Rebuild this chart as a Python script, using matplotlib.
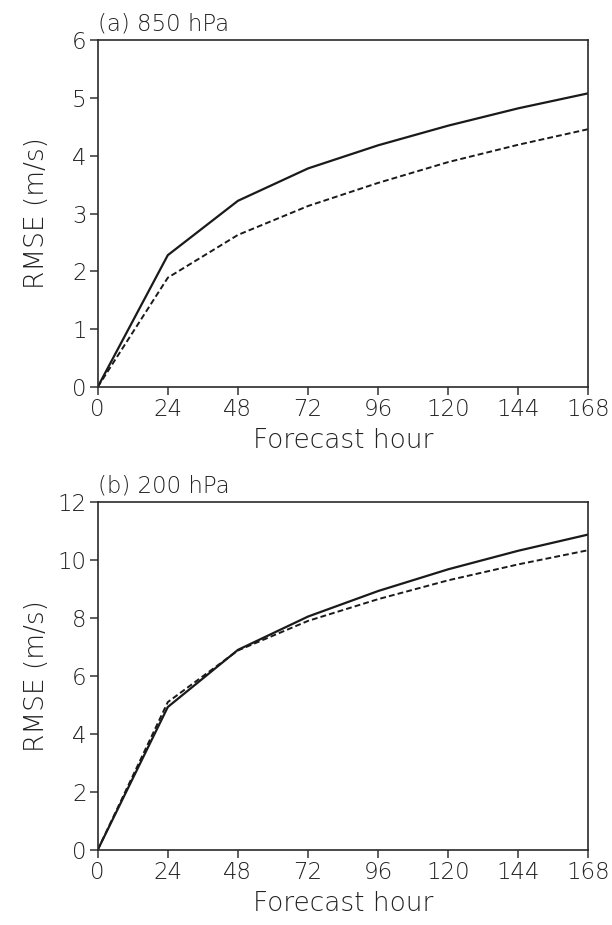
import matplotlib
matplotlib.use("Agg")
import matplotlib.pyplot as plt

plt.rcParams['font.family'] = ['DejaVu Sans']
plt.rcParams['font.weight'] = 200
plt.rcParams['axes.labelweight'] = 200
plt.rcParams['axes.titleweight'] = 200

hours = [0, 24, 48, 72, 96, 120, 144, 168]

rmse_850_solid = [0, 2.28, 3.22, 3.78, 4.18, 4.52, 4.82, 5.08]
rmse_850_dash = [0, 1.89, 2.63, 3.13, 3.53, 3.89, 4.19, 4.46]

rmse_200_solid = [0, 4.93, 6.90, 8.05, 8.93, 9.68, 10.32, 10.88]
rmse_200_dash = [0, 5.10, 6.88, 7.90, 8.65, 9.30, 9.85, 10.34]

panels = [
    ("(a) 850 hPa", rmse_850_solid, rmse_850_dash, 6, 1),
    ("(b) 200 hPa", rmse_200_solid, rmse_200_dash, 12, 2),
]

fig = plt.figure(figsize=(6.12, 9.25), dpi=100)
axes = [fig.add_axes([0.1596, 0.5816, 0.802, 0.3751]),
        fig.add_axes([0.1596, 0.0811, 0.802, 0.3762])]

for ax, (title, solid, dash, ymax, ystep) in zip(axes, panels):
    ax.plot(hours, solid, color="#1a1a1a", lw=1.6, solid_joinstyle="miter")
    ax.plot(hours, dash, color="#1a1a1a", lw=1.4, dashes=(3, 1.6))
    ax.set_xlim(0, 168)
    ax.set_ylim(0, ymax)
    ax.set_xticks(hours)
    ax.set_yticks(range(0, ymax + 1, ystep))
    ax.tick_params(direction="out", length=6, width=1.1, color="#333333",
                   labelsize=16.5, labelcolor="#222222", pad=2)
    for s in ax.spines.values():
        s.set_linewidth(1.2)
        s.set_color("#2a2a2a")
    ax.set_xlabel("Forecast hour", fontsize=19, color="#222222", labelpad=5)
    ax.set_ylabel("RMSE (m/s)", fontsize=19, color="#222222")
    ax.yaxis.set_label_coords(-0.099, 0.5)
    ax.set_title(title, loc="left", fontsize=16.5, color="#222222", pad=7)

fig.savefig("out.png", dpi=100)
